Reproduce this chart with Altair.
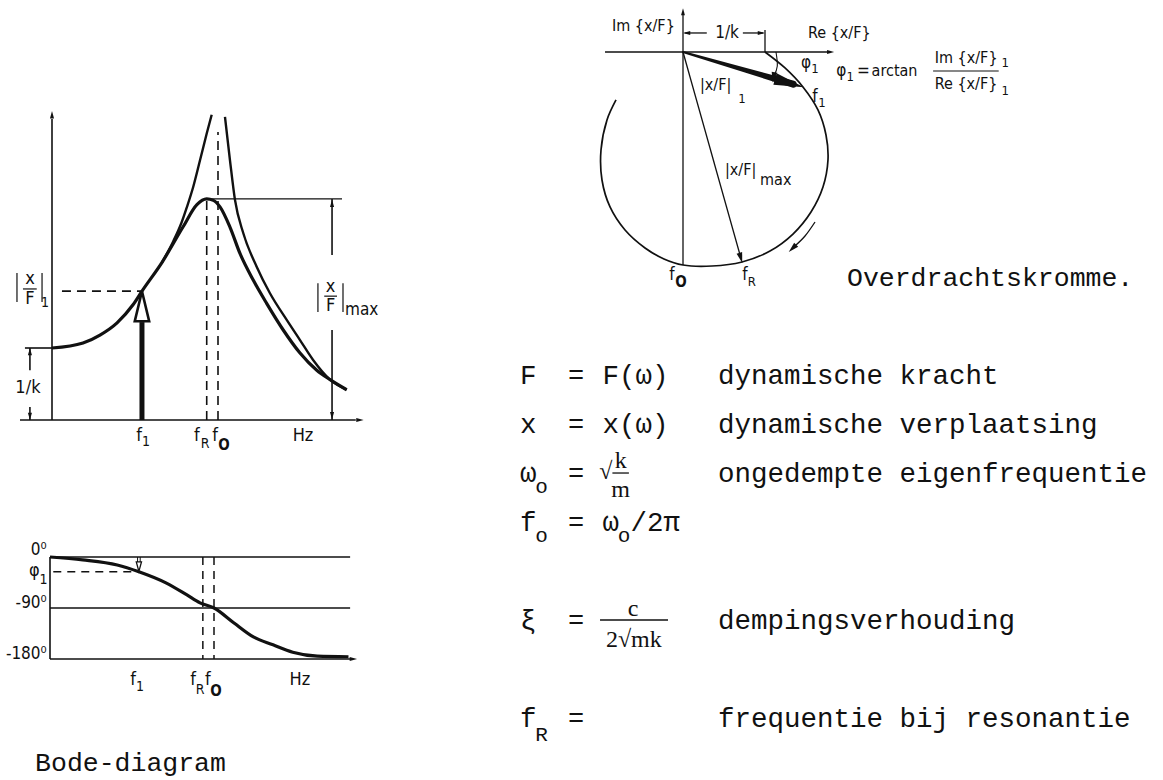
import altair as alt
import pandas as pd

INK = "#111111"
SANS = "DejaVu Sans Condensed, Liberation Sans Narrow, Liberation Sans, sans-serif"
MONO = "Liberation Mono, DejaVu Sans Mono, monospace"
SERIF = "Liberation Serif, DejaVu Serif, serif"

# ---------------------------------------------------------------
# Bode diagram, amplitude |x/F| (in multiples of 1/k) vs frequency
# ---------------------------------------------------------------
F1, FR, FO = 5.42, 9.32, 10.0          # f1, resonance frequency, undamped natural frequency
AMP_1, AMP_MAX = 1.79, 3.07            # |x/F|1 and |x/F|max

amp_damped_f = [0.0, 1.87, 2.89, 3.92, 4.88, 5.42, 6.63, 7.89, 8.73, 9.32, 9.72,
                10.12, 10.72, 11.33, 12.13, 12.93, 13.93, 14.94, 15.95, 16.75, 17.75]
amp_damped = [1.00, 1.07, 1.18, 1.35, 1.60, 1.79, 2.19, 2.68, 2.99, 3.07, 3.05,
              2.96, 2.68, 2.31, 1.94, 1.62, 1.25, 0.93, 0.69, 0.56, 0.42]

amp_free_left_f = [6.63, 7.30, 7.80, 8.13, 8.51, 8.92, 9.32, 9.62]
amp_free_left = [2.19, 2.48, 2.74, 2.96, 3.24, 3.61, 3.98, 4.24]
amp_free_right_f = [10.42, 10.72, 11.02, 11.53, 12.33, 13.13, 14.14, 14.94, 15.74, 16.75, 17.75]
amp_free_right = [4.21, 3.61, 3.06, 2.59, 2.13, 1.76, 1.39, 1.11, 0.83, 0.56, 0.42]

# ---------------------------------------------------------------
# Bode diagram, phase in degrees vs frequency
# ---------------------------------------------------------------
PHI_1 = -26
phase_f = [0.0, 2.0, 4.1, 5.42, 7.1, 8.35, 9.15, 10.0, 11.2, 12.4, 13.6, 14.8, 16.3, 18.2]
phase_deg = [0, -5, -14, -26, -46, -67, -81, -90, -116, -141, -155, -168, -175, -176]
phase_ticks = [0, -90, -180]

# ---------------------------------------------------------------
# Transfer curve x/F in the complex plane (units of 1/k)
# ---------------------------------------------------------------
nyq_re = [1.0, 1.244, 1.463, 1.646, 1.744, 1.768, 1.707, 1.561, 1.341, 1.061, 0.720,
          0.354, 0.0, -0.232, -0.463, -0.707, -0.890, -0.988, -1.0, -0.927, -0.817]
nyq_im = [0.0, -0.195, -0.427, -0.707, -1.012, -1.317, -1.646, -1.951, -2.220, -2.427, -2.561,
          -2.610, -2.598, -2.524, -2.390, -2.171, -1.890, -1.561, -1.195, -0.829, -0.585]
RE_1, IM_1 = 1.463, -0.427      # x/F at f1
RE_R, IM_R = 0.720, -2.561      # x/F at fR
IM_O = -2.598                   # x/F at fo (purely imaginary)

HEAD = "M1,0L-1,-0.55L-1,0.55Z"
SLIM_HEAD = "M1,0L-1,-0.4L-1,0.4Z"
UP_HEAD = "M0,-1L0.48,1L-0.48,1Z"


def lin(domain, rng):
    return alt.Scale(domain=domain, range=rng, nice=False, zero=False)


def pos(sx, sy):
    return dict(x=alt.X("x:Q", scale=sx, axis=None), y=alt.Y("y:Q", scale=sy, axis=None))


def segments(rows, sx, sy, **style):
    df = pd.DataFrame(rows, columns=["x", "y", "x2", "y2"])
    return alt.Chart(df).mark_rule(color=INK, **style).encode(x2="x2:Q", y2="y2:Q", **pos(sx, sy))


def curve(xs, ys, sx, sy, interpolate="monotone", **style):
    df = pd.DataFrame({"x": xs, "y": ys, "k": list(range(len(xs)))})
    return alt.Chart(df).mark_line(color=INK, interpolate=interpolate, **style).encode(
        order="k:Q", **pos(sx, sy))


def heads(rows, sx, sy, shape=HEAD, size=55, **style):
    df = pd.DataFrame(rows, columns=["x", "y", "a"])
    kw = dict(shape=shape, size=size, opacity=1)
    if "fill" not in style:
        kw.update(filled=True, color=INK)
    kw.update(style)
    return alt.Chart(df).mark_point(**kw).encode(angle=alt.Angle("a:Q", scale=None), **pos(sx, sy))


def labels(rows, sx, sy, **style):
    df = pd.DataFrame(rows, columns=["x", "y", "t"])
    return alt.Chart(df).mark_text(color=INK, **style).encode(text="t:N", **pos(sx, sy))


# ---------------- amplitude panel ----------------
AX, AY = lin([0, 20], [52, 384]), lin([0, 4], [420, 132])
amp_panel = alt.layer(
    segments([(0, 0, 0, 4.18), (-1.93, 0, 18.3, 0), (-1.63, 1, 0, 1),
              (-1.33, 1, -1.33, 0.69), (-1.33, 0.18, -1.33, 0),
              (16.87, AMP_MAX, 16.87, 2.29), (16.87, 1.25, 16.87, 0)], AX, AY, strokeWidth=1.6),
    segments([(FR, AMP_MAX, 17.47, AMP_MAX),
              (-2.11, 2.04, -2.11, 1.64), (-0.60, 2.04, -0.60, 1.64),
              (16.02, 1.90, 16.02, 1.50), (17.53, 1.90, 17.53, 1.50),
              (-1.75, 1.82, -0.92, 1.82), (16.40, 1.72, 17.17, 1.72)], AX, AY, strokeWidth=1.2),
    segments([(0.6, AMP_1, F1, AMP_1), (FR, 0, FR, AMP_MAX), (FO, 0, FO, 4.0)], AX, AY,
             strokeWidth=1.6, strokeDash=[9, 6]),
    segments([(F1, 0, F1, 1.36)], AX, AY, strokeWidth=5),
    curve(amp_damped_f, amp_damped, AX, AY, strokeWidth=3.2),
    curve(amp_free_left_f, amp_free_left, AX, AY, strokeWidth=2.4),
    curve(amp_free_right_f, amp_free_right, AX, AY, strokeWidth=2.4),
    heads([(F1, 1.58, 0)], AX, AY, shape=UP_HEAD, size=900, fill="white", stroke=INK,
          strokeWidth=2.6, filled=True),
    heads([(0, 4.24, -90), (18.55, 0, 0), (-1.33, 0.95, -90), (-1.33, 0.05, 90),
           (16.87, 3.01, -90), (16.87, 0.06, 90)], AX, AY, size=55),
    labels([(-1.45, 0.44, "1/k"), (-1.33, 1.96, "x"), (-1.33, 1.68, "F"),
            (16.78, 1.85, "x"), (16.78, 1.58, "F"),
            (5.24, -0.22, "f"), (8.73, -0.22, "f"), (9.82, -0.22, "f"), (15.12, -0.22, "Hz")],
           AX, AY, font=SANS, fontSize=18),
    labels([(-0.42, 1.62, "1"), (5.66, -0.31, "1"), (9.22, -0.33, "R")], AX, AY,
           font=SANS, fontSize=14),
    labels([(10.36, -0.35, "O")], AX, AY, font=SANS, fontSize=15, fontWeight="bold"),
    labels([(17.65, 1.53, "max")], AX, AY, font=SANS, fontSize=17, align="left"),
)

# ---------------- phase panel ----------------
PX, PY = lin([0, 20], [50, 378]), lin([-180, 0], [659, 557])
phase_panel = alt.layer(
    segments([(0, 0, 0, -180), (0, -180, 18.35, -180)], PX, PY, strokeWidth=1.6),
    segments([(0, t, 18.3, t) for t in phase_ticks[:2]], PX, PY, strokeWidth=1.3),
    segments([(0.2, PHI_1, F1, PHI_1), (FR, 0, FR, -180), (FO, 0, FO, -180)], PX, PY,
             strokeWidth=1.5, strokeDash=[8, 6]),
    segments([(F1 - 0.08, 0, F1 - 0.08, -12), (F1 + 0.08, 0, F1 + 0.08, -12)], PX, PY, strokeWidth=1.0),
    curve(phase_f, phase_deg, PX, PY, strokeWidth=3.2),
    heads([(F1, -17, 90)], PX, PY, size=90, fill="white", stroke=INK, strokeWidth=1.3, filled=True),
    heads([(18.5, -180, 0)], PX, PY, size=55),
    labels([(-0.2, t + (12 if t == 0 else 8), f"{t}\u2070") for t in phase_ticks], PX, PY,
           font=SANS, fontSize=17, align="right"),
    labels([(-0.95, -25, "\u03c6"), (5.06, -217, "f"), (8.72, -217, "f"), (9.63, -217, "f"),
            (15.24, -217, "Hz")], PX, PY, font=SANS, fontSize=18),
    labels([(-0.4, -40, "1"), (5.49, -230, "1"), (9.15, -234, "R")], PX, PY, font=SANS, fontSize=14),
    labels([(10.12, -236, "O")], PX, PY, font=SANS, fontSize=15, fontWeight="bold"),
    labels([(-0.91, -363, "Bode-diagram")], PX, PY, font=MONO, fontSize=26.5, align="left"),
)

# ---------------- complex plane panel ----------------
NX, NY = lin([-1, 2], [601, 847]), lin([-3, 0], [298, 52])
thick_vec = pd.DataFrame({"x": [0.0, RE_1 - 0.12], "y": [0.0, IM_1 + 0.035], "w": [2.0, 7.0], "k": [0, 1]})
nyq_panel = alt.layer(
    segments([(-0.951, 0, 1.77, 0), (0, IM_O, 0, 0.45), (0.02, 0.232, 0.29, 0.232),
              (0.73, 0.232, 0.98, 0.232), (1.0, 0, 1.0, 0.268),
              (0, 0, RE_R - 0.02, IM_R + 0.07)], NX, NY, strokeWidth=1.3),
    alt.Chart(thick_vec).mark_trail(color=INK).encode(
        size=alt.Size("w:Q", scale=None, legend=None), order="k:Q", **pos(NX, NY)),
    curve(nyq_re, nyq_im, NX, NY, interpolate="catmull-rom", strokeWidth=1.7),
    curve([1.61, 1.488, 1.36], [-2.073, -2.244, -2.37], NX, NY, interpolate="cardinal", strokeWidth=1.3),
    curve([1.134, 1.15, 1.11], [0.0, -0.17, -0.29], NX, NY, interpolate="cardinal", strokeWidth=1.1),
    heads([(1.80, 0, 0), (0, 0.49, -90), (0.045, 0.232, 180), (0.955, 0.232, 0)], NX, NY, size=50),
    heads([(RE_R - 0.015, IM_R + 0.05, 74), (1.335, -2.395, 135), (1.105, -0.31, 100)], NX, NY, size=110),
    heads([(RE_1 - 0.165, IM_1 + 0.048, 16)], NX, NY, shape=SLIM_HEAD, size=900),
    labels([(-0.1, 0.317, "Im {x/F}")], NX, NY, font=SANS, fontSize=16, align="right"),
    labels([(1.524, 0.232, "Re {x/F}"), (2.30, -0.232, "arctan"),
            (3.07, -0.073, "Im {x/F}"), (3.07, -0.39, "Re {x/F}"),
            (0.207, -0.40, "|x/F|"), (0.512, -1.44, "|x/F|")], NX, NY,
           font=SANS, fontSize=16, align="left"),
    labels([(0.537, 0.232, "1/k"), (1.50, -0.134, "\u03c6"), (1.93, -0.232, "\u03c6"),
            (2.2, -0.232, "="), (1.61, -0.55, "f"), (-0.134, -2.72, "f"), (0.756, -2.72, "f")],
           NX, NY, font=SANS, fontSize=17),
    labels([(1.61, -0.21, "1"), (2.04, -0.31, "1"), (3.93, -0.14, "1"), (3.93, -0.47, "1"),
            (0.72, -0.575, "1"), (1.695, -0.624, "1"), (0.84, -2.80, "R")], NX, NY,
           font=SANS, fontSize=13),
    labels([(0.94, -1.56, "max")], NX, NY, font=SANS, fontSize=16, align="left"),
    labels([(-0.024, -2.81, "O")], NX, NY, font=SANS, fontSize=15, fontWeight="bold"),
    segments([(3.05, -0.232, 3.85, -0.232)], NX, NY, strokeWidth=1.1),
    labels([(2.0, -2.76, "Overdrachtskromme.")], NX, NY, font=MONO, fontSize=26.5, align="left"),
)

# ---------------- definitions (typewriter grid: column, row) ----------------
TX, TY = lin([0, 12], [520, 718]), lin([0, 7], [376, 719])
symbols = [(0, 0, "F"), (0, 1, "x"), (0, 2, "\u03c9"), (0, 3, "f"), (0, 5, "\u03be"), (0, 7, "f")]
values = [(5, 0, "F(\u03c9)"), (5, 1, "x(\u03c9)"), (5, 3, "\u03c9"), (6.7, 3, "/2\u03c0")]
meanings = [(12, 0, "dynamische kracht"), (12, 1, "dynamische verplaatsing"),
            (12, 2, "ongedempte eigenfrequentie"), (12, 5, "dempingsverhouding"),
            (12, 7, "frequentie bij resonantie")]
equals = [(3.4, r, "=") for r in (0, 1, 2, 3, 5, 7)]
subscripts = [(0.92, 2.27, "o"), (0.92, 3.27, "o"), (5.92, 3.27, "o"), (0.92, 7.33, "R")]

txt_panel = alt.layer(
    labels(symbols + values + meanings, TX, TY, font=MONO, fontSize=27.5, align="left"),
    labels(equals, TX, TY, font=MONO, fontSize=27),
    labels(subscripts, TX, TY, font=MONO, fontSize=21, align="left"),
    labels([(5.2, 1.96, "\u221a"), (6.1, 1.73, "k"), (6.1, 2.33, "m"),
            (6.85, 4.76, "c"), (6.9, 5.38, "2\u221amk")], TX, TY, font=SERIF, fontSize=24),
    segments([(5.6, 1.98, 6.6, 1.98), (4.85, 4.98, 8.97, 4.98)], TX, TY, strokeWidth=1.3),
)

chart = alt.layer(amp_panel, phase_panel, nyq_panel, txt_panel).resolve_scale(
    x="independent", y="independent"
).properties(
    width=1163, height=780, autosize="none", padding=0, background="white"
).configure_view(stroke=None)

chart.save("out.html", embed_options={"renderer": "svg", "actions": False})
